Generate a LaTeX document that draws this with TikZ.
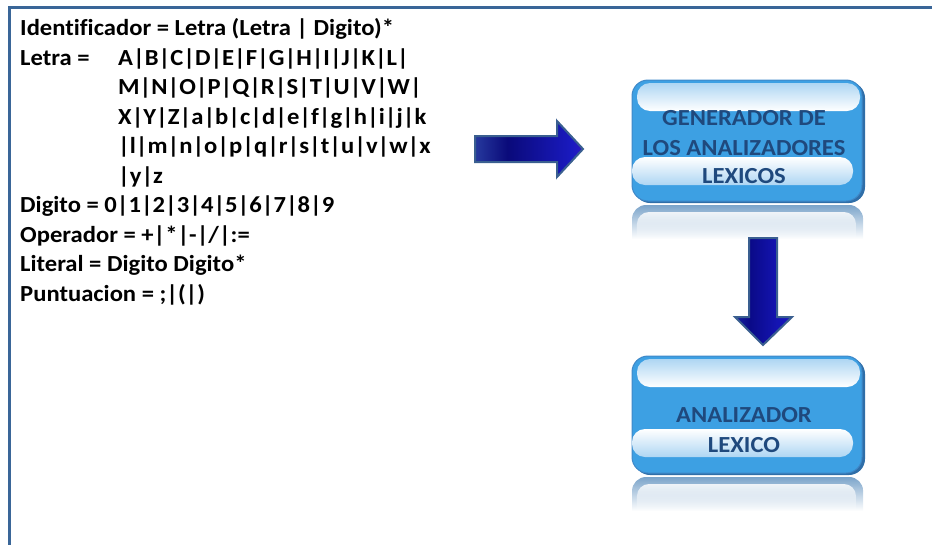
\documentclass[tikz,border=0pt]{standalone}
\usepackage{fontspec}
\setmainfont{Carlito}[FakeStretch=1.07, Ligatures=NoCommon]
\usetikzlibrary{fadings}

\definecolor{framecol}{HTML}{3A6698}
\definecolor{boxfill}{HTML}{3DA0E3}
\definecolor{boxedge}{HTML}{3F88C8}
\definecolor{boxshadow}{HTML}{2F6EA8}
\definecolor{bandblue}{HTML}{AED6F3}
\definecolor{boxtext}{HTML}{1F497D}
\definecolor{reflcol}{HTML}{7BA4CA}
\definecolor{arrowedge}{HTML}{3A5F90}

% colour stops of the two block arrows
\definecolor{arA}{HTML}{5588D8}
\definecolor{arB}{HTML}{0A0A7A}
\definecolor{arC}{HTML}{1A1AC0}
\definecolor{arD}{HTML}{6A10C8}
\definecolor{arE}{HTML}{7A10C0}
\definecolor{dnA}{HTML}{3552C8}
\definecolor{dnB}{HTML}{0A0A88}
\definecolor{dnC}{HTML}{1414B2}
\definecolor{dnD}{HTML}{1A1AC8}
\definecolor{dnE}{HTML}{6A10C8}

\pgfdeclarehorizontalshading{rightshade}{100bp}{%
  color(0bp)=(arA); color(40bp)=(arB); color(70bp)=(arC);
  color(88bp)=(arD); color(100bp)=(arE)}
\pgfdeclarehorizontalshading{downshade}{100bp}{%
  color(0bp)=(dnA); color(38bp)=(dnB); color(62bp)=(dnC);
  color(82bp)=(dnD); color(100bp)=(dnE)}

\tikzset{
  deftext/.style={anchor=base west, inner sep=0pt, font=\fontsize{23}{27}\selectfont\bfseries},
  boxlabel/.style={anchor=base, inner sep=0pt, text=boxtext, font=\fontsize{23}{27}\selectfont\bfseries},
  blockarrow/.style={draw=arrowedge, line width=2pt, line join=miter},
}

\begin{document}
\begin{tikzpicture}[x=1pt,y=-1pt]
\useasboundingbox (0,0) rectangle (932,544);

% outer frame (left and top edges)
\draw[framecol, line width=2.8pt] (9.5,546) -- (9.5,7.5) -- (934,7.5);

% token definitions
\node[deftext] (d1) at (20,35) {Identificador = Letra (Letra | Digito)*};
\node[deftext] (d2) at (20,65) {Letra =};
\node[deftext] (a1) at (118,65) {A|B|C|D|E|F|G|H|I|J|K|L|};
\node[deftext] (a2) at (118,94.5) {M|N|O|P|Q|R|S|T|U|V|W|};
\node[deftext] (a3) at (118,124) {X|Y|Z|a|b|c|d|e|f|g|h|i|j|k};
\node[deftext] (a4) at (118,153) {|l|m|n|o|p|q|r|s|t|u|v|w|x};
\node[deftext] (a5) at (118,183) {|y|z};
\node[deftext] (d3) at (20,212) {Digito = 0|1|2|3|4|5|6|7|8|9};
\node[deftext] (d4) at (20,242) {Operador = +|*|-|/|:=};
\node[deftext] (d5) at (20,271) {Literal = Digito Digito*};
\node[deftext] (d6) at (20,301) {Puntuacion = ;|(|)};

% glossy rounded box: #1 top, #2 bottom
\newcommand{\glossbox}[2]{%
  \fill[boxshadow, rounded corners=16] (634,#1+2) rectangle (865,#2+2);
  \filldraw[fill=boxfill, draw=boxedge, line width=1pt, rounded corners=16] (632,#1) rectangle (862,#2);
  \shade[top color=bandblue, bottom color=white, rounded corners=13] (637,#1+3) rectangle (860,#1+31);
  \shade[top color=white, bottom color=bandblue, rounded corners=13] (632,#2-44) rectangle (853,#2-16);
  % reflection underneath
  \fill[reflcol, path fading=south, rounded corners=14] (632,#2+38) -- (632,#2+4) -- (863,#2+4) -- (863,#2+38);
  \fill[white, opacity=0.85, path fading=south, rounded corners=12] (637,#2+40) -- (637,#2+11) -- (856,#2+11) -- (856,#2+40);
}

\glossbox{80}{201}
\glossbox{356}{473}

\node[boxlabel] (g1) at (744,125) {GENERADOR DE};
\node[boxlabel] (g2) at (744,155) {LOS ANALIZADORES};
\node[boxlabel] (g3) at (744,183) {LEXICOS};
\node[boxlabel] (l1) at (744,422) {ANALIZADOR};
\node[boxlabel] (l2) at (744,452) {LEXICO};

% right block arrow
\path[blockarrow, shading=rightshade]
  (475,136) -- (557,136) -- (557,121) -- (583,149) -- (557,177) -- (557,162) -- (475,162) -- cycle;

% down block arrow
\path[blockarrow, shading=downshade]
  (749,238) -- (777,238) -- (777,317) -- (792,317) -- (763,345) -- (735,317) -- (749,317) -- cycle;
\end{tikzpicture}
\end{document}
